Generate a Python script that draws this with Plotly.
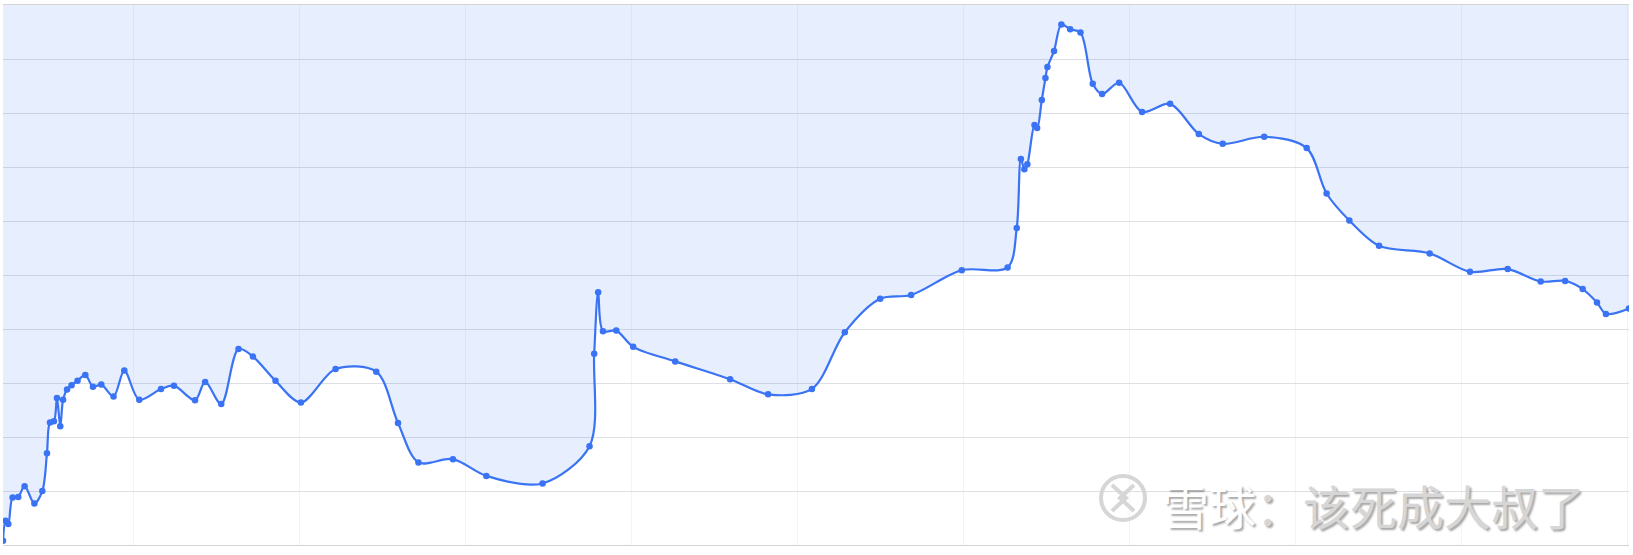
import plotly.graph_objects as go

# Values (x: time position, y: level)
x_vals = [
    2.15, 2.31, 2.47, 2.73, 3.07, 3.45, 4.04, 4.52, 4.80, 4.98,
    5.22, 5.40, 5.60, 5.77, 6.01, 6.28, 6.64, 7.11, 7.57, 8.07,
    8.81, 9.46, 10.36, 11.67, 12.45, 13.72, 14.33, 15.30, 16.34, 17.21,
    18.57, 20.10, 22.19, 24.64, 25.95, 27.18, 29.26, 31.27, 34.66, 37.49,
    37.77, 38.01, 38.30, 39.10, 40.12, 42.65, 45.96, 48.25, 50.89, 52.87,
    55.00, 56.87, 59.92, 62.68, 63.23, 63.48, 63.69, 63.87, 64.30, 64.46,
    64.74, 64.96, 65.08, 65.48, 65.92, 66.45, 67.07, 67.81, 68.37, 69.40,
    70.78, 72.47, 74.20, 75.64, 78.14, 80.70, 81.90, 83.27, 85.06, 88.11,
    90.54, 92.81, 94.80, 96.27, 97.33, 98.19, 98.73, 100.12,
]
y_vals = [
    0.08, 0.45, 0.39, 0.88, 0.89, 1.09, 0.77, 1.00, 1.70, 2.27,
    2.29, 2.72, 2.20, 2.69, 2.88, 2.96, 3.04, 3.15, 2.93, 2.97,
    2.75, 3.23, 2.69, 2.89, 2.95, 2.68, 3.02, 2.61, 3.63, 3.49,
    3.04, 2.64, 3.26, 3.21, 2.26, 1.53, 1.59, 1.28, 1.14, 1.83,
    3.54, 4.68, 3.96, 3.97, 3.67, 3.40, 3.07, 2.79, 2.89, 3.94,
    4.56, 4.63, 5.09, 5.14, 5.87, 7.15, 6.96, 7.05, 7.78, 7.72,
    8.24, 8.65, 8.85, 9.15, 9.64, 9.55, 9.49, 8.54, 8.35, 8.56,
    8.02, 8.17, 7.61, 7.43, 7.56, 7.35, 6.51, 6.01, 5.54, 5.40,
    5.06, 5.11, 4.88, 4.89, 4.74, 4.49, 4.28, 4.38,
]

Y_TOP = 10
X_RANGE = [2.15, 100.12]

LINE_COLOR = "#3a73f4"
FILL_COLOR = "rgba(59,118,246,0.12)"

fig = go.Figure()

# invisible ceiling trace so the series can fill upward to the top of the plot
fig.add_trace(go.Scatter(
    x=[x_vals[0], x_vals[-1]], y=[Y_TOP, Y_TOP],
    mode="lines", line=dict(width=0), hoverinfo="skip", showlegend=False,
))

fig.add_trace(go.Scatter(
    x=x_vals, y=y_vals,
    mode="lines+markers",
    line=dict(color=LINE_COLOR, width=2.2, shape="spline", smoothing=0.9),
    marker=dict(color=LINE_COLOR, size=6.5),
    fill="tonexty", fillcolor=FILL_COLOR,
    showlegend=False,
))

# watermark logo: circle with two chevrons
logo_x = (1123 - 3) / 1626
logo_y = (545 - 498) / 540
fig.add_shape(
    type="circle", xref="paper", yref="paper",
    xsizemode="pixel", ysizemode="pixel", xanchor=logo_x, yanchor=logo_y,
    x0=-22, x1=22, y0=-22, y1=22,
    line=dict(color="#d6d6d6", width=4), layer="above",
)
fig.add_shape(
    type="path", xref="paper", yref="paper",
    xsizemode="pixel", ysizemode="pixel", xanchor=logo_x, yanchor=logo_y,
    path="M -11,13 L 3,0 L -11,-13 M 11,13 L -3,0 L 11,-13",
    line=dict(color="#d6d6d6", width=4), layer="above",
)

fig.add_annotation(
    xref="paper", yref="paper",
    x=(1373 - 3) / 1626, y=(545 - 504) / 540,
    xanchor="center", yanchor="middle",
    text="雪球<span style='color:#d6d6d6'>：该死成大叔了</span>",
    showarrow=False,
    font=dict(family="Noto Sans CJK SC", size=47, color="#ffffff",
              shadow="2px 2px 2px rgba(0,0,0,0.35)"),
)

fig.update_layout(
    width=1633, height=555,
    margin=dict(l=3, r=4, t=5, b=10),
    paper_bgcolor="#ffffff",
    plot_bgcolor="#ffffff",
    xaxis=dict(
        range=X_RANGE, tick0=0, dtick=10,
        showgrid=True, gridcolor="#f4f4f7", gridwidth=1,
        showticklabels=False, zeroline=False,
        showline=True, linecolor="#d4d4d4", linewidth=1, mirror=True,
    ),
    yaxis=dict(
        range=[0, Y_TOP], dtick=1,
        showgrid=True, gridcolor="#dedfe4", gridwidth=1,
        showticklabels=False, zeroline=False,
    ),
)

# drop the browser's default body margin so the figure sits at the page corner
fig.write_html(
    "out.html",
    config={"displayModeBar": False},
    post_script="document.body.style.margin='0';",
)
